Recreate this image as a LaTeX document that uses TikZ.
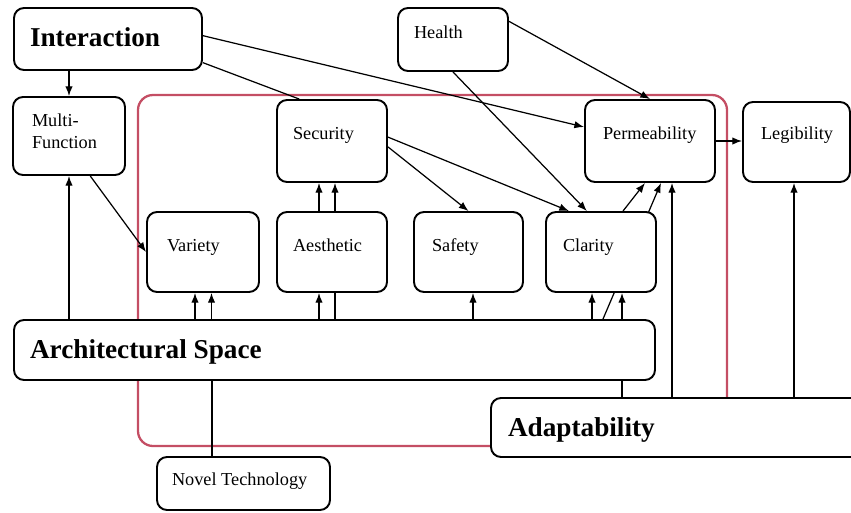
\documentclass[tikz,border=0pt]{standalone}
\usepackage{fontspec}
\setmainfont{Liberation Serif}
\usetikzlibrary{arrows.meta,backgrounds}
\definecolor{framered}{RGB}{196,78,100}
\hyphenpenalty=10000

\begin{document}
\begin{tikzpicture}[>={Latex[length=5.5pt,width=4.2pt]},
    factor/.style={draw, line width=1.1pt, rounded corners=0.2cm, fill=white, align=flush left,
      font=\fontsize{10.4}{12.5}\selectfont, text height=7pt},
    bigfactor/.style={factor, font=\fontsize{15.5}{18}\selectfont\bfseries, text height=10.5pt},
    link/.style={line width=0.7pt}]
    \path[use as bounding box, clip] (0,0) rectangle (17.02,-10.24);

    % outer factors
    \node[bigfactor, minimum height=1.24cm, inner xsep=0.32cm, text width=3.12cm, text depth=2.5pt] (inter) at (2.16,-0.78) {Interaction};
    \node[factor, minimum height=1.26cm, inner xsep=0.32cm, text width=1.56cm, text depth=8.5pt] (health) at (9.06,-0.79) {Health};
    \node[factor, minimum height=1.56cm, inner xsep=0.38cm, text width=1.48cm, text depth=17.5pt] (multi) at (1.38,-2.72) {Multi-\\Function};
    \node[factor, minimum height=1.6cm, inner xsep=0.36cm, text width=1.42cm, text depth=10.4pt] (leg) at (15.93,-2.84) {Legibility};

    % factors inside the frame
    \node[factor, minimum height=1.64cm, inner xsep=0.32cm, text width=1.56cm, text depth=9.2pt] (sec) at (6.64,-2.82) {Security};
    \node[factor, minimum height=1.64cm, inner xsep=0.36cm, text width=1.88cm, text depth=9.2pt] (perm) at (13.0,-2.82) {Permeability};
    \node[factor, minimum height=1.6cm, inner xsep=0.4cm, text width=1.44cm, text depth=8.1pt] (variety) at (4.06,-5.04) {Variety};
    \node[factor, minimum height=1.6cm, inner xsep=0.32cm, text width=1.56cm, text depth=8.1pt] (aesth) at (6.64,-5.04) {Aesthetic};
    \node[factor, minimum height=1.6cm, inner xsep=0.36cm, text width=1.46cm, text depth=8.1pt] (safety) at (9.37,-5.04) {Safety};
    \node[factor, minimum height=1.6cm, inner xsep=0.34cm, text width=1.52cm, text depth=8.1pt] (clarity) at (12.02,-5.04) {Clarity};

    % bottom factors
    \node[bigfactor, minimum height=1.2cm, inner xsep=0.32cm, text width=12.18cm, text depth=1.3pt] (arch) at (6.69,-7.0) {Architectural Space};
    \node[bigfactor, minimum height=1.18cm, inner xsep=0.34cm, text width=6.74cm, text depth=0.8pt] (adapt) at (13.53,-8.55) {Adaptability};
    \node[factor, minimum height=1.06cm, inner xsep=0.3cm, text width=2.86cm, text depth=5.2pt] (novel) at (4.87,-9.67) {Novel Technology};

    % frame and the links that pass behind boxes
    \begin{scope}[on background layer]
      \draw[framered, line width=1.3pt, rounded corners=0.3cm] (2.76,-1.9) rectangle (14.54,-8.92);
      \draw[link, ->] ([xshift=0.06cm]aesth.south |- arch.north) -- ([xshift=0.06cm]sec.south);
      \draw[link, ->] ([xshift=0.42cm]clarity.south |- adapt.north) -- ([xshift=0.42cm]clarity.south);
      \draw[link, ->] ([xshift=0.04cm]clarity.south |- arch.north) -- ([xshift=0.22cm]perm.south);
    \end{scope}

    \draw[link, ->] (multi.north |- inter.south) -- (multi.north);
    \draw[link] (inter.-14) -- (sec.128);
    \draw[link, ->] (inter.2) -- (perm.168);
    \draw[link, ->] (health.18) -- (perm.north);
    \draw[link, ->] (health.south) -- (clarity.109);
    \draw[link, ->] (sec.4) -- (clarity.128);
    \draw[link, ->] (sec.-6) -- (safety.north);
    \draw[link, ->] (multi.-62) -- (variety.west);
    \draw[link, ->] (arch.north -| multi.south) -- (multi.south);
    \foreach \s in {-0.16,0.17}
      \draw[link, ->] ([xshift=\s cm]variety.south |- arch.north) -- ([xshift=\s cm]variety.south);
    \draw[link, ->] ([xshift=-0.26cm]aesth.south |- arch.north) -- ([xshift=-0.26cm]aesth.south);
    \draw[link, ->] ([xshift=-0.26cm]aesth.north) -- ([xshift=-0.26cm]sec.south);
    \draw[link, ->] ([xshift=0.09cm]safety.south |- arch.north) -- ([xshift=0.09cm]safety.south);
    \draw[link, ->] ([xshift=-0.18cm]clarity.south |- arch.north) -- ([xshift=-0.18cm]clarity.south);
    \draw[link, ->] ([xshift=0.44cm]clarity.north) -- ([xshift=-0.1cm]perm.south);
    \draw[link, ->] ([xshift=0.44cm]perm.south |- adapt.north) -- ([xshift=0.44cm]perm.south);
    \draw[link, ->] ([xshift=-0.05cm]leg.south |- adapt.north) -- ([xshift=-0.05cm]leg.south);
    \draw[link, ->] (perm.east) -- (perm.east -| leg.west);
    \draw[link] ([xshift=-0.63cm]novel.north) -- ([xshift=-0.63cm]novel.north |- arch.south);
\end{tikzpicture}
\end{document}
